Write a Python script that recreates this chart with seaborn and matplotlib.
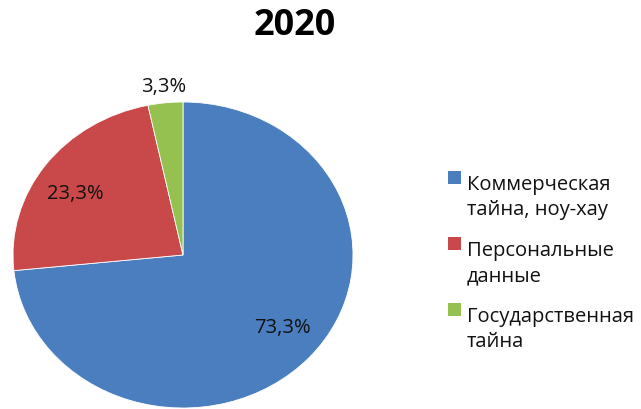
import matplotlib
matplotlib.use("Agg")
import matplotlib.pyplot as plt
import seaborn as sns
import numpy as np
from matplotlib.patches import Rectangle

# Data
categories = ["Коммерческая\nтайна, ноу-хау", "Персональные\nданные", "Государственная\nтайна"]
shares = [73.3, 23.3, 3.3]
pct_labels = ["73,3%", "23,3%", "3,3%"]
colors = ["#4A7EBF", "#C9484A", "#94C150"]
title = "2020"

sns.set_theme(style="white")
plt.rcParams["font.family"] = ["Open Sans", "DejaVu Sans"]

W, H = 641, 410
fig = plt.figure(figsize=(W / 100, H / 100), dpi=100)
fig.patch.set_facecolor("white")

# Pie axes: slightly wider than tall, so the pie is an ellipse
cx, cy, rx, ry = 183, 256, 170, 153
ax = fig.add_axes([(cx - rx) / W, 1 - (cy + ry) / H, 2 * rx / W, 2 * ry / H])
wedges, _ = ax.pie(shares, colors=colors, startangle=90, counterclock=False,
                   wedgeprops=dict(edgecolor="white", linewidth=0.6))
ax.set_xlim(-1, 1)
ax.set_ylim(-1, 1)
ax.set_aspect("auto")
ax.axis("off")

# Percentage labels: inside the big slices, outside the small one
for w, lab, s in zip(wedges, pct_labels, shares):
    inside = s >= 5
    mid = np.deg2rad((w.theta1 + w.theta2) / 2 + (3.5 if inside else 0))
    r = 0.75 if inside else 1.11
    ax.text(r * np.cos(mid), r * np.sin(mid), lab, ha="center", va="center",
            fontsize=14.5, color="#111111", clip_on=False)

fig.text(295 / W, 1 - 26 / H, title, ha="center", va="center",
         fontsize=26, fontweight="bold", color="black")

# Legend
sq = 13
pitch = 26
for i, (lab, c) in enumerate(zip(categories, colors)):
    yc = 178 + 66 * i
    fig.add_artist(Rectangle((448 / W, 1 - (yc + sq / 2) / H), sq / W, sq / H,
                             transform=fig.transFigure, facecolor=c, edgecolor="none"))
    n_lines = lab.count("\n")
    fig.text(467 / W, 1 - (yc + 11 + pitch * n_lines) / H, lab, ha="left", va="baseline",
             fontsize=14.5, color="#111111", linespacing=1.36)

fig.savefig("out.png", dpi=100)
